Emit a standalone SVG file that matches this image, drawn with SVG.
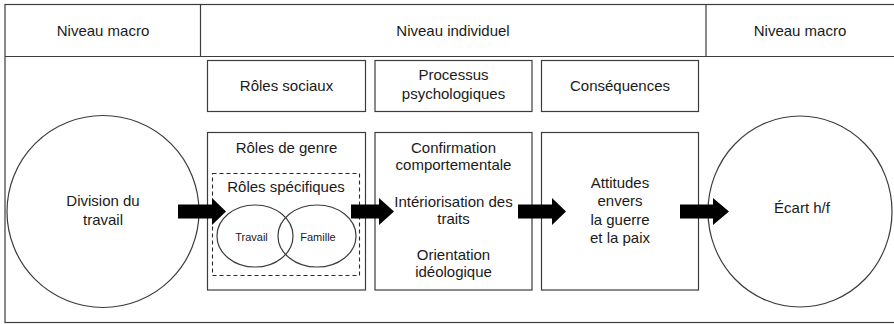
<svg xmlns="http://www.w3.org/2000/svg" width="894" height="324" viewBox="0 0 894 324">
<defs>
<style>
.ln{fill:none;stroke:#3c3c3c;stroke-width:1.2}
.bx{fill:#ffffff;stroke:#3c3c3c;stroke-width:1.2}
.ds{fill:none;stroke:#2a2a2a;stroke-width:1.1;stroke-dasharray:4 3}
.t{font-family:"Liberation Sans",Arial,sans-serif;font-size:15px;fill:#1a1a1a;text-anchor:middle}
.s{font-family:"Liberation Sans",Arial,sans-serif;font-size:11px;fill:#1a1a1a;text-anchor:middle}
.ar{fill:#000000;stroke:none}
</style>
</defs>
<rect x="0" y="0" width="894" height="324" fill="#ffffff"/>
<g id="frame">
<rect class="ln" x="5" y="4.5" width="900" height="318"/>
<line class="ln" x1="5" y1="56.5" x2="894" y2="56.5"/>
<line class="ln" x1="200.5" y1="4.5" x2="200.5" y2="56.5"/>
<line class="ln" x1="706" y1="4.5" x2="706" y2="56.5"/>
</g>
<g id="header-macro-left"><text class="t" x="103" y="36">Niveau macro</text></g>
<g id="header-individuel"><text class="t" x="453" y="36">Niveau individuel</text></g>
<g id="header-macro-right"><text class="t" x="800" y="36">Niveau macro</text></g>
<g id="roles-sociaux">
<rect class="bx" x="207.5" y="60.5" width="158" height="51"/>
<text class="t" x="286.5" y="91">Rôles sociaux</text>
</g>
<g id="processus">
<rect class="bx" x="375" y="60.5" width="157" height="51"/>
<text class="t" x="453.5" y="80">Processus</text>
<text class="t" x="453.5" y="99">psychologiques</text>
</g>
<g id="consequences">
<rect class="bx" x="541.5" y="60.5" width="157" height="51"/>
<text class="t" x="620" y="91">Conséquences</text>
</g>
<g id="division">
<circle class="bx" cx="103" cy="211.5" r="96"/>
<text class="t" x="103" y="206">Division du</text>
<text class="t" x="103" y="225">travail</text>
</g>
<g id="roles-genre">
<rect class="bx" x="207.5" y="132.5" width="158" height="157.5"/>
<text class="t" x="286.5" y="153">Rôles de genre</text>
</g>
<g id="roles-specifiques">
<rect class="ds" x="212.5" y="173.5" width="147" height="102"/>
<text class="t" x="286" y="192">Rôles spécifiques</text>
</g>
<g id="travail">
<ellipse class="ln" cx="255" cy="236" rx="38" ry="31"/>
<text class="s" x="251.5" y="241">Travail</text>
</g>
<g id="famille">
<ellipse class="ln" cx="317" cy="236" rx="39" ry="31"/>
<text class="s" x="318" y="241">Famille</text>
</g>
<g id="processus-contenu">
<rect class="bx" x="375" y="132.5" width="157" height="157.5"/>
<text class="t" x="453.5" y="153">Confirmation</text>
<text class="t" x="453.5" y="170">comportementale</text>
<text class="t" x="453.5" y="207">Intériorisation des</text>
<text class="t" x="453.5" y="224">traits</text>
<text class="t" x="453.5" y="260">Orientation</text>
<text class="t" x="453.5" y="277">idéologique</text>
</g>
<g id="attitudes">
<rect class="bx" x="541.5" y="132.5" width="157" height="157.5"/>
<text class="t" x="620" y="187.5">Attitudes</text>
<text class="t" x="620" y="206">envers</text>
<text class="t" x="620" y="224.5">la guerre</text>
<text class="t" x="620" y="243">et la paix</text>
</g>
<g id="ecart">
<ellipse class="bx" cx="800" cy="211.5" rx="92" ry="95.5"/>
<text class="t" x="802" y="213">Écart h/f</text>
</g>
<g id="connectors">
<polygon class="ar" points="178,204.5 212,204.5 212,198 226,211.5 212,225 212,218.5 178,218.5"/>
<polygon class="ar" points="351,204.5 379,204.5 379,198 394,211.5 379,225 379,218.5 351,218.5"/>
<polygon class="ar" points="518,204.5 552,204.5 552,198 566,211.5 552,225 552,218.5 518,218.5"/>
<polygon class="ar" points="680,204.5 713,204.5 713,198 729,211.5 713,225 713,218.5 680,218.5"/>
</g>
</svg>
